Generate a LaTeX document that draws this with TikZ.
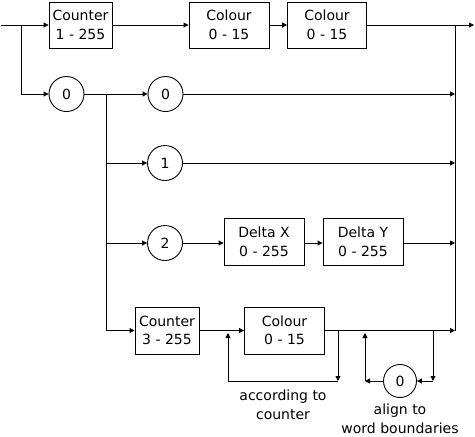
\documentclass[tikz,border=0pt]{standalone}
\usepackage{fontspec}
\setmainfont{DejaVu Sans}
\usetikzlibrary{arrows.meta}
\begin{document}
\begin{tikzpicture}[x=1pt,y=-1pt,
  every node/.style={font=\fontsize{14}{18.5}\selectfont, inner sep=0pt},
  box/.style={draw, line width=0.9pt, minimum height=46pt, align=center},
  circ/.style={draw, circle, line width=0.9pt, minimum size=35pt},
  wire/.style={line width=0.9pt},
  arr/.style={line width=0.9pt, -{Triangle[length=5pt,width=5pt]}},
  lbl/.style={align=center}]
\useasboundingbox (0,0) rectangle (475,437);
% nodes
\node[box, minimum width=63pt] (c1) at (80.5,25) {Counter\\1 - 255};
\node[box, minimum width=80pt] (col1) at (229,25) {Colour\\0 - 15};
\node[box, minimum width=79pt] (col2) at (327,25) {Colour\\0 - 15};
\node[circ] (z0) at (66.5,94) {0};
\node[circ] (z0b) at (165.5,94) {0};
\node[circ] (one) at (165,163) {1};
\node[circ] (two) at (165,243) {2};
\node[box, minimum width=80pt, minimum height=47pt] (dx) at (264,242) {Delta X\\0 - 255};
\node[box, minimum width=80pt, minimum height=47pt] (dy) at (363,242) {Delta Y\\0 - 255};
\node[box, minimum width=64pt, minimum height=47pt] (c3) at (167,330.5) {Counter\\3 - 255};
\node[box, minimum width=80pt, minimum height=47pt] (col3) at (284.5,330.5) {Colour\\0 - 15};
\node[circ, minimum size=33pt] (zb) at (400,381) {0};
\node[lbl] (t1) at (283,405) {according to\\counter};
\node[lbl] (t2) at (400,419) {align to\\word boundaries};
% coordinates
\coordinate (in) at (1,25);
\coordinate (j1) at (21,25);
\coordinate (j2) at (106,94);
\coordinate (j2b) at (106,330.5);
\coordinate (rt) at (455,25);
\coordinate (out) at (474,25);
\coordinate (r0) at (455,94);
\coordinate (r1) at (455,163);
\coordinate (r2) at (455,243);
\coordinate (r3) at (455,330.5);
\coordinate (fa) at (338,330.5);
\coordinate (fb) at (338,381);
\coordinate (fc) at (228,381);
\coordinate (fd) at (228,333);
\coordinate (ga) at (433,330.5);
\coordinate (gb) at (433,381);
\coordinate (gc) at (365,381);
\coordinate (gd) at (365,333);
% top row
\draw[arr] (in) -- (c1.west |- in);
\draw[arr] (c1.east |- in) -- (col1.west |- in);
\draw[arr] (col1.east |- in) -- (col2.west |- in);
\draw[arr] (col2.east |- in) -- (out);
% right vertical
\draw[wire] (rt) -- (r3);
% second row
\draw[arr] (j1) |- (z0);
\draw[arr] (z0) -- (z0b);
\draw[arr] (z0b) -- (r0);
\draw[wire] (j2) -- (j2b);
\draw[arr] (j2 |- one) -- (one);
\draw[arr] (one) -- (r1);
\draw[arr] (j2 |- two) -- (two);
\draw[arr] (two) -- (dx.west |- two);
\draw[arr] (dx.east |- two) -- (dy.west |- two);
\draw[arr] (dy.east |- two) -- (r2);
\draw[arr] (j2b) -- (c3.west |- j2b);
\draw[arr] (c3.east |- j2b) -- (col3.west |- j2b);
\draw[arr] (col3.east |- j2b) -- (r3);
% feedback loop
\draw[arr] (fa) -- (fb);
\draw[arr] (fb) -- (fc) -- (fd);
% align loop
\draw[arr] (ga) -- (gb);
\draw[arr] (gb) -- (zb);
\draw[arr] (zb) -- (gc);
\draw[arr] (gc) -- (gd);
\end{tikzpicture}
\end{document}
